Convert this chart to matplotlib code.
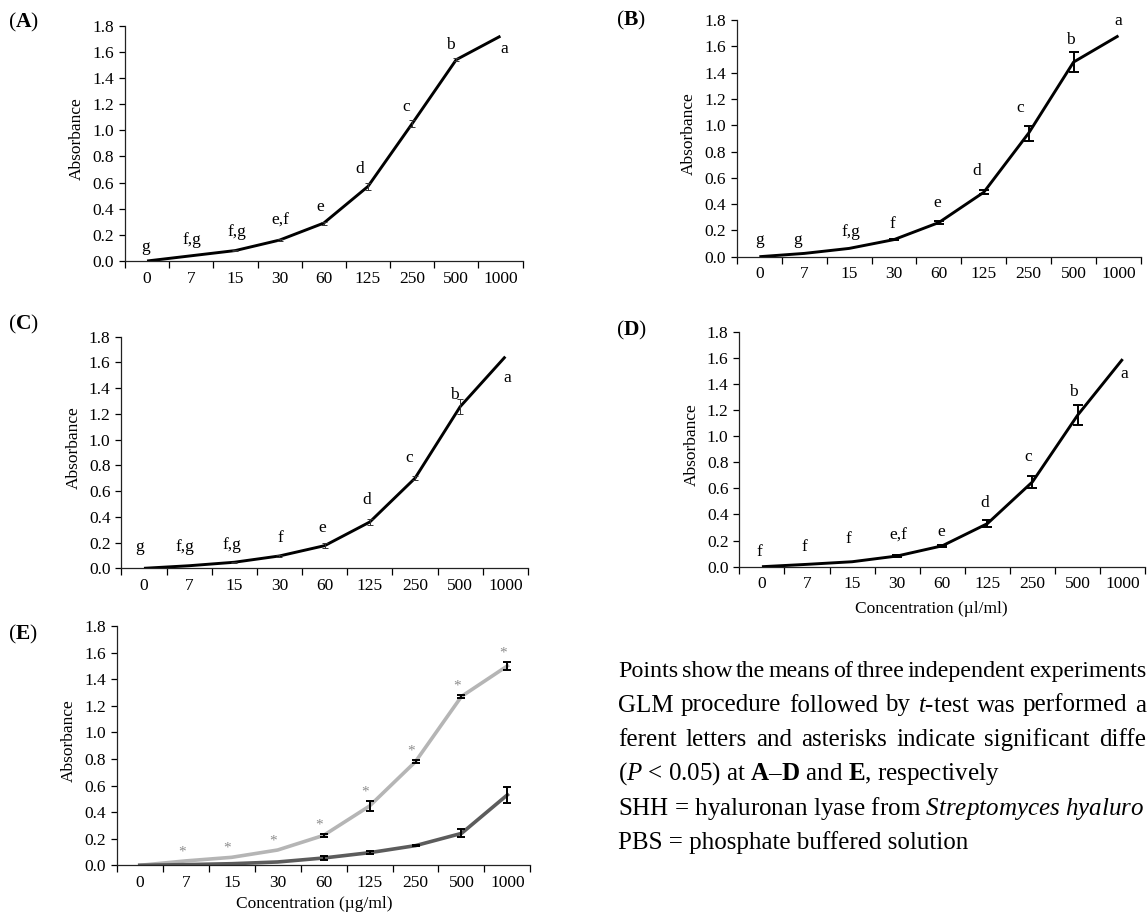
import matplotlib
matplotlib.use("Agg")
import matplotlib.pyplot as plt
import numpy as np

plt.rcParams['font.family'] = ['Liberation Serif', 'DejaVu Serif']
plt.rcParams['mathtext.fontset'] = 'custom'
plt.rcParams['mathtext.rm'] = 'Liberation Serif'
plt.rcParams['mathtext.it'] = 'Liberation Serif:italic'
plt.rcParams['mathtext.bf'] = 'Liberation Serif:bold'

# Data
conc_labels = ['0', '7', '15', '30', '60', '125', '250', '500', '1000']

a_mean = [0.0, 0.04, 0.08, 0.16, 0.29, 0.57, 1.05, 1.54, 1.72]
a_err = [0.0, 0.0, 0.006, 0.01, 0.012, 0.025, 0.025, 0.012, 0.0]
a_letters = ['g', 'f,g', 'f,g', 'e,f', 'e', 'd', 'c', 'b', 'a']

b_mean = [0.0, 0.025, 0.063, 0.13, 0.26, 0.49, 0.94, 1.48, 1.68]
b_err = [0.0, 0.0, 0.0, 0.006, 0.008, 0.015, 0.057, 0.074, 0.0]
b_letters = ['g', 'g', 'f,g', 'f', 'e', 'd', 'c', 'b', 'a']

c_mean = [0.0, 0.02, 0.047, 0.096, 0.176, 0.36, 0.70, 1.256, 1.645]
c_err = [0.0, 0.0, 0.005, 0.01, 0.02, 0.02, 0.015, 0.058, 0.0]
c_letters = ['g', 'f,g', 'f,g', 'f', 'e', 'd', 'c', 'b', 'a']

d_mean = [0.0, 0.018, 0.038, 0.082, 0.16, 0.33, 0.65, 1.16, 1.59]
d_err = [0.0, 0.0, 0.0, 0.005, 0.008, 0.028, 0.046, 0.077, 0.0]
d_letters = ['f', 'f', 'f', 'e,f', 'e', 'd', 'c', 'b', 'a']

shh_mean = [0.0, 0.033, 0.06, 0.115, 0.225, 0.446, 0.78, 1.27, 1.50]
shh_err = [0.0, 0.0, 0.0, 0.0, 0.01, 0.035, 0.01, 0.01, 0.03]
pbs_mean = [0.0, 0.005, 0.012, 0.025, 0.055, 0.095, 0.148, 0.24, 0.53]
pbs_err = [0.0, 0.0, 0.0, 0.0, 0.015, 0.01, 0.005, 0.03, 0.06]
e_marks = ['', '*', '*', '*', '*', '*', '*', '*', '*']

# where the letters sit (category position, absorbance)
a_lbl_x = [-0.03, 1.01, 2.03, 3.01, 3.92, 4.81, 5.86, 6.87, 8.08]
a_lbl_y = [0.107, 0.16, 0.22, 0.31, 0.41, 0.70, 1.18, 1.65, 1.62]
b_lbl_x = [0.01, 0.86, 2.04, 2.96, 3.97, 4.85, 5.82, 6.92, 8.0]
b_lbl_y = [0.127, 0.127, 0.19, 0.25, 0.41, 0.65, 1.13, 1.65, 1.79]
c_lbl_x = [-0.1, 0.91, 1.95, 3.02, 3.95, 4.94, 5.88, 6.87, 8.04]
c_lbl_y = [0.168, 0.168, 0.18, 0.233, 0.316, 0.53, 0.86, 1.35, 1.48]
d_lbl_x = [-0.06, 0.95, 1.91, 3.02, 3.97, 4.94, 5.9, 6.9, 8.04]
d_lbl_y = [0.115, 0.148, 0.209, 0.235, 0.263, 0.49, 0.84, 1.335, 1.476]

W, H = 1148, 914
fig = plt.figure(figsize=(W / 100, H / 100), dpi=100)

TICK_FS = 12.5
LBL_FS = 12.5


def px_axes(l, t, r, b):
    return fig.add_axes([l / W, 1 - b / H, (r - l) / W, (b - t) / H])


def setup(ax, width_px, xlabel=None, xlab_x=0.5, xlab_y=-0.16):
    x = np.arange(len(conc_labels))
    ax.set_xlim(-0.5, len(conc_labels) - 0.5)
    ax.set_ylim(0, 1.8)
    ax.set_yticks(np.arange(0, 1.81, 0.2))
    ax.set_yticklabels(['%.1f' % v for v in np.arange(0, 1.81, 0.2)], fontsize=TICK_FS)
    ax.set_xticks(np.arange(-0.5, len(conc_labels)))
    ax.set_xticklabels([])
    ax.set_xticks(x, minor=True)
    ax.set_xticklabels(conc_labels, minor=True, fontsize=TICK_FS)
    ax.tick_params(axis='x', which='minor', length=0, pad=7)
    ax.tick_params(axis='x', which='major', length=5, width=0.9, direction='out')
    ax.tick_params(axis='y', length=4, width=0.9, pad=3.8)
    for s in ['top', 'right']:
        ax.spines[s].set_visible(False)
    for s in ['left', 'bottom']:
        ax.spines[s].set_linewidth(0.9)
        ax.spines[s].set_color('#222222')
    ax.set_ylabel('Absorbance', fontsize=LBL_FS)
    ax.yaxis.set_label_coords(-48 / width_px, 0.52)
    ax.yaxis.label.set_va('center')
    if xlabel:
        ax.set_xlabel(xlabel, fontsize=LBL_FS)
        ax.xaxis.set_label_coords(xlab_x, xlab_y)
        ax.xaxis.label.set_va('center')


def draw_err(ax, mean, err, color, lw, cap):
    # only the bars that show up in the source figure
    idx = [i for i, e in enumerate(err) if e > 0]
    ax.errorbar(idx, [mean[i] for i in idx], yerr=[err[i] for i in idx], fmt='none',
                ecolor=color, elinewidth=lw, capsize=cap, capthick=lw, zorder=3)


def letter_panel(ax, mean, err, letters, lx, ly, thick):
    x = np.arange(len(mean))
    ax.plot(x, mean, color='black', lw=2.1, solid_capstyle='butt', zorder=2)
    if thick:
        draw_err(ax, mean, err, 'black', 1.4, 3.5)
    else:
        draw_err(ax, mean, err, '#333333', 0.7, 2.5)
    for t, xx, yy in zip(letters, lx, ly):
        ax.text(xx, yy, t, fontsize=LBL_FS, ha='center', va='center')


# panel rectangles in pixels: left, top, right, bottom
rects = {
    'A': (125, 25.7, 522.5, 261),
    'B': (736.9, 20, 1140.9, 256.7),
    'C': (121.4, 336.7, 527.9, 568.3),
    'D': (739.4, 331.7, 1145.2, 566.7),
    'E': (116.8, 626, 530.4, 865.3),
}

axA = px_axes(*rects['A'])
setup(axA, rects['A'][2] - rects['A'][0])
letter_panel(axA, a_mean, a_err, a_letters, a_lbl_x, a_lbl_y, False)

axB = px_axes(*rects['B'])
setup(axB, rects['B'][2] - rects['B'][0])
letter_panel(axB, b_mean, b_err, b_letters, b_lbl_x, b_lbl_y, True)

axC = px_axes(*rects['C'])
setup(axC, rects['C'][2] - rects['C'][0])
letter_panel(axC, c_mean, c_err, c_letters, c_lbl_x, c_lbl_y, False)

axD = px_axes(*rects['D'])
setup(axD, rects['D'][2] - rects['D'][0], 'Concentration (µl/ml)', 0.473, -0.18)
letter_panel(axD, d_mean, d_err, d_letters, d_lbl_x, d_lbl_y, True)

axE = px_axes(*rects['E'])
setup(axE, rects['E'][2] - rects['E'][0], 'Concentration (µg/ml)', 0.477, -0.16)
xe = np.arange(len(conc_labels))
axE.plot(xe, shh_mean, color='#b5b5b5', lw=2.6, zorder=2)
axE.plot(xe, pbs_mean, color='#5c5c5c', lw=2.6, zorder=2)
draw_err(axE, shh_mean, shh_err, 'black', 1.4, 3)
draw_err(axE, pbs_mean, pbs_err, 'black', 1.4, 3)
for i, m in enumerate(e_marks):
    if m:
        axE.annotate(m, xy=(i, shh_mean[i] + shh_err[i]), xytext=(-3, 4),
                     textcoords='offset points', ha='center', va='baseline',
                     fontsize=11, color='#8c8c8c')

# panel tags
tags = [('A', 8, 22.3), ('B', 616, 20.8), ('C', 8, 324), ('D', 616, 330.7), ('E', 8, 634)]
for t, x, y in tags:
    fig.text(x / W, 1 - y / H, '($\\mathbf{%s}$)' % t, fontsize=15.5, ha='left', va='center')

# caption text on the right, running to the page edge like the source
TXT_FS = 18
TXT_X0 = 618
renderer = fig.canvas.get_renderer()


def place_words(words, base_px, x_end, fs=TXT_FS):
    arts = [fig.text(0, 1 - base_px / H, w, fontsize=fs, ha='left', va='baseline')
            for w in words]
    widths = [a.get_window_extent(renderer).width for a in arts]
    gap = (x_end - TXT_X0 - sum(widths)) / (len(words) - 1)
    x = TXT_X0
    for a, w in zip(arts, widths):
        a.set_x(x / W)
        x += w + gap


place_words('Points show the means of three independent experiments'.split(), 677, 1146, 17.3)
place_words(['GLM', 'procedure', 'followed', 'by', '$\\mathit{t}$-test', 'was', 'performed', 'a'],
            711.5, 1146)
place_words('ferent letters and asterisks indicate significant diffe'.split(), 746, 1146)
fig.text(TXT_X0 / W, 1 - 780 / H,
         '($\\mathit{P}$ < 0.05) at $\\mathbf{A}$–$\\mathbf{D}$ and $\\mathbf{E}$, respectively',
         fontsize=TXT_FS, ha='left', va='baseline')
fig.text(TXT_X0 / W, 1 - 815 / H,
         'SHH = hyaluronan lyase from $\\mathit{Streptomyces}$ $\\mathit{hyaluro}$',
         fontsize=TXT_FS, ha='left', va='baseline')
fig.text(TXT_X0 / W, 1 - 849 / H, 'PBS = phosphate buffered solution',
         fontsize=TXT_FS, ha='left', va='baseline')

fig.savefig('out.png', dpi=100)
